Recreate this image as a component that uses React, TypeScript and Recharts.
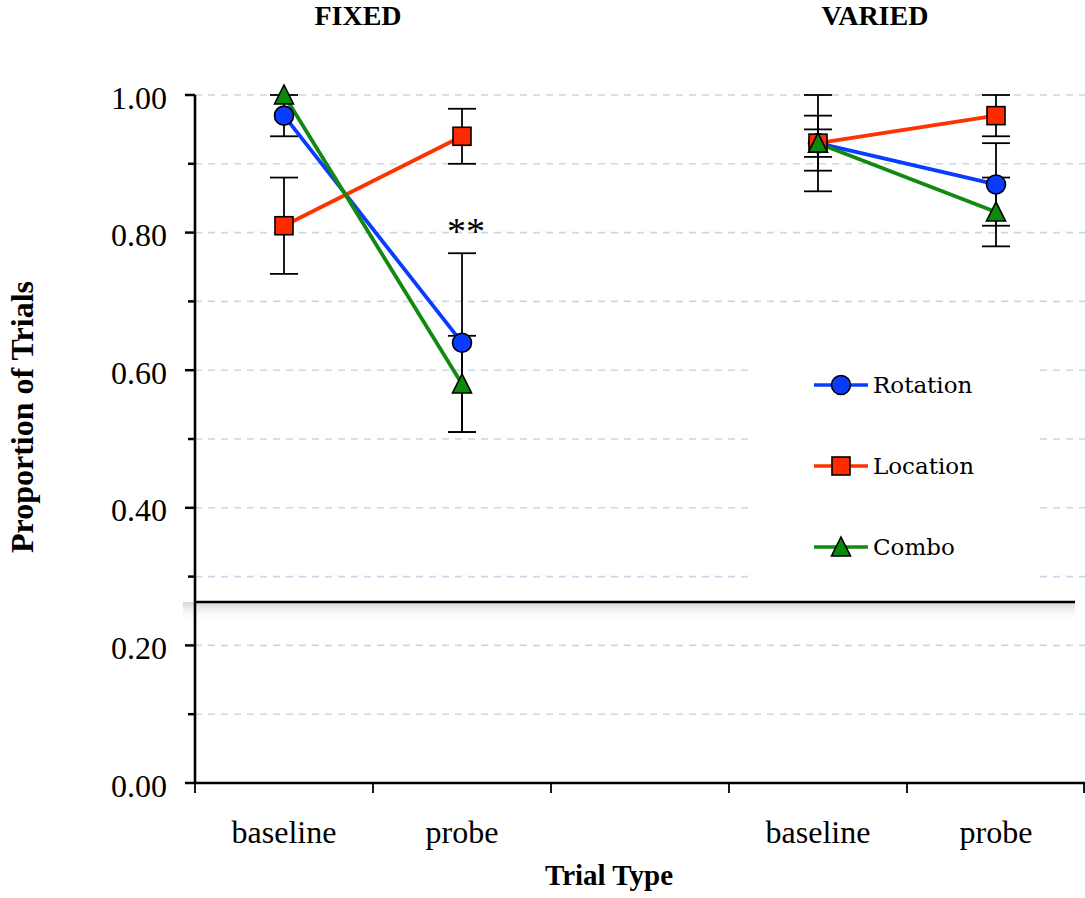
import React from 'react';
import {
  ComposedChart,
  Line,
  XAxis,
  YAxis,
  CartesianGrid,
  ErrorBar,
  ReferenceLine,
  ReferenceDot,
  Legend,
  Customized,
} from 'recharts';

// ---------- data ----------
const slotKeys = ['fixed-baseline', 'fixed-probe', 'gap', 'varied-baseline', 'varied-probe'];
const slotLabels = ['baseline', 'probe', '', 'baseline', 'probe'];

const rotation = [0.97, 0.64, null, 0.93, 0.87];
const rotationErr = [0.03, 0.13, null, 0.07, 0.06];
const location = [0.81, 0.94, null, 0.93, 0.97];
const locationErr = [0.07, 0.04, null, 0.04, 0.03];
const combo = [1.0, 0.58, null, 0.93, 0.83];
const comboErr = [0.0, 0.07, null, 0.02, 0.05];

const yTicks = [0, 0.1, 0.2, 0.3, 0.4, 0.5, 0.6, 0.7, 0.8, 0.9, 1.0];
const yLabelTicks = [0, 0.2, 0.4, 0.6, 0.8, 1.0];
const groupTitles = ['FIXED', 'VARIED'];
const chanceLevel = 0.263;
const annotations = [{ key: 'fixed-probe', y: 0.81, text: '**' }];

const seriesInfo = [
  { key: 'rotation', name: 'Rotation', color: '#0a3cff', fill: '#0a3cff', shape: 'circle' },
  { key: 'location', name: 'Location', color: '#ff3300', fill: '#ff2a00', shape: 'square' },
  { key: 'combo', name: 'Combo', color: '#128a12', fill: '#0c8a0c', shape: 'triangle' },
];

const data = slotKeys.map((k, i) => ({
  key: k,
  label: slotLabels[i],
  rotation: rotation[i],
  rotationErr: rotationErr[i],
  location: location[i],
  locationErr: locationErr[i],
  combo: combo[i],
  comboErr: comboErr[i],
}));

const SERIF = '"Liberation Serif", "Times New Roman", serif';

// ---------- markers ----------
function Marker({ shape, cx, cy, fill }: any) {
  if (shape === 'circle') {
    return <circle cx={cx} cy={cy} r={9.5} fill={fill} stroke="#000" strokeWidth={1.6} />;
  }
  if (shape === 'square') {
    return <rect x={cx - 9} y={cy - 9} width={18} height={18} fill={fill} stroke="#000" strokeWidth={1.6} />;
  }
  return (
    <polygon
      points={`${cx},${cy - 10} ${cx + 9.5},${cy + 9} ${cx - 9.5},${cy + 9}`}
      fill={fill}
      stroke="#000"
      strokeWidth={1.6}
    />
  );
}

const makeDot = (shape: string, fill: string) => (props: any) => {
  const { cx, cy, index, value } = props;
  if (cx == null || cy == null || value == null || (Array.isArray(value) && value[1] == null)) {
    return <g key={`d-${shape}-${index}`} />;
  }
  return (
    <g key={`d-${shape}-${index}`}>
      <Marker shape={shape} cx={cx} cy={cy} fill={fill} />
    </g>
  );
};

// ---------- ticks ----------
const YTick = (props: any) => {
  const { x, y, payload } = props;
  const major = yLabelTicks.some((t) => Math.abs(t - payload.value) < 1e-6);
  return (
    <g>
      <line x1={x - (major ? 10 : 7)} x2={x} y1={y} y2={y} stroke="#000" strokeWidth={2.5} />
      {major && (
        <text x={x - 28} y={y} dy={13.5} textAnchor="end" fontSize={32} fontFamily={SERIF} fill="#000">
          {payload.value.toFixed(2)}
        </text>
      )}
    </g>
  );
};

const XTick = (props: any) => {
  const { x, y, payload, index, visibleTicksCount } = props;
  const off = payload.offset ?? 0;
  const label = slotLabels[index] ?? '';
  const isLast = index === (visibleTicksCount ?? slotKeys.length) - 1;
  return (
    <g>
      <line x1={x - off} x2={x - off} y1={y} y2={y + 10} stroke="#000" strokeWidth={1.8} />
      {isLast && <line x1={x + off - 1} x2={x + off - 1} y1={y} y2={y + 10} stroke="#000" strokeWidth={1.8} />}
      <text x={x} y={y + 60} textAnchor="middle" fontSize={32} fontFamily={SERIF} fill="#000">
        {label}
      </text>
    </g>
  );
};

// ---------- legend ----------
const LegendContent = () => (
  <div style={{ width: '100%', height: '100%', background: '#fff', position: 'relative' }}>
    {seriesInfo.map((s, i) => (
      <div
        key={s.key}
        style={{
          position: 'absolute',
          left: 64,
          top: 40 + i * 81 - 14,
          height: 28,
          display: 'flex',
          alignItems: 'center',
        }}
      >
        <svg width={58} height={28} style={{ display: 'block' }}>
          <line x1={2} x2={56} y1={14} y2={14} stroke={s.color} strokeWidth={3.5} />
          <Marker shape={s.shape} cx={29} cy={14} fill={s.fill} />
        </svg>
        <span
          style={{
            fontFamily: '"DejaVu Serif", serif',
            fontSize: 23,
            color: '#000',
            marginLeft: 3,
            lineHeight: '28px',
          }}
        >
          {s.name}
        </span>
      </div>
    ))}
  </div>
);

// ---------- free texts ----------
const Titles = () => (
  <g>
    <text x={358} y={25} textAnchor="middle" fontSize={28} fontWeight="bold" fontFamily={SERIF} fill="#000">
      {groupTitles[0]}
    </text>
    <text x={875} y={25} textAnchor="middle" fontSize={28} fontWeight="bold" fontFamily={SERIF} fill="#000">
      {groupTitles[1]}
    </text>
    <text x={609} y={885} textAnchor="middle" fontSize={29} fontWeight="bold" fontFamily={SERIF} fill="#000">
      Trial Type
    </text>
    <text
      x={0}
      y={0}
      transform="translate(33, 417) rotate(-90)"
      textAnchor="middle"
      fontSize={32}
      fontWeight="bold"
      fontFamily={SERIF}
      fill="#000"
    >
      Proportion of Trials
    </text>
  </g>
);

const ChanceShape = (p: any) => {
  const x1 = p.x1 ?? 195;
  const x2 = (p.x2 ?? 1085) - 10;
  const y = p.y1;
  return (
    <g>
      <defs>
        <linearGradient id="chanceShadow" x1="0" y1="0" x2="0" y2="1">
          <stop offset="0" stopColor="#cccccc" stopOpacity={0.8} />
          <stop offset="1" stopColor="#ffffff" stopOpacity={0} />
        </linearGradient>
      </defs>
      <rect x={x1 - 12} y={y} width={x2 - x1 + 12} height={20} fill="url(#chanceShadow)" />
      <line x1={x1} x2={x2} y1={y} y2={y} stroke="#000" strokeWidth={2.6} />
    </g>
  );
};

export default function App() {
  return (
    <div style={{ position: 'absolute', left: 0, top: 0, width: 1085, height: 898, background: '#fff' }}>
      <ComposedChart width={1085} height={898} data={data} margin={{ top: 95, right: 0, bottom: 0, left: 0 }}>
        <CartesianGrid vertical={false} stroke="#c9d7ea" strokeDasharray="7 6" strokeWidth={1.6} />
        <XAxis
          dataKey="key"
          type="category"
          scale="band"
          interval={0}
          height={115}
          tickSize={0}
          tickMargin={0}
          tickLine={false}
          axisLine={{ stroke: '#000', strokeWidth: 2.6 }}
          tick={<XTick />}
        />
        <YAxis
          type="number"
          domain={[0, 1]}
          ticks={yTicks}
          interval={0}
          width={195}
          tickSize={0}
          tickMargin={0}
          tickLine={false}
          axisLine={{ stroke: '#000', strokeWidth: 2.6 }}
          tick={<YTick />}
        />
        <ReferenceLine y={chanceLevel} ifOverflow="visible" shape={ChanceShape} />
        {seriesInfo.map((s) => (
          <Line
            key={s.key}
            type="linear"
            dataKey={s.key}
            name={s.name}
            stroke={s.color}
            strokeWidth={3.8}
            connectNulls={false}
            isAnimationActive={false}
            dot={makeDot(s.shape, s.fill)}
            activeDot={false}
            legendType="line"
          >
            <ErrorBar dataKey={`${s.key}Err`} width={14} stroke="#000" strokeWidth={1.8} direction="y" isAnimationActive={false} />
          </Line>
        ))}
        {annotations.map((a) => (
          <ReferenceDot
            key={a.key}
            x={a.key}
            y={a.y}
            r={0}
            ifOverflow="visible"
            shape={(p: any) => (
              <text x={p.cx + 4} y={p.cy + 18} textAnchor="middle" fontSize={38} fontFamily={SERIF} fill="#000">
                {a.text}
              </text>
            )}
          />
        ))}
        <Legend
          layout="vertical"
          verticalAlign="middle"
          align="center"
          content={<LegendContent />}
          wrapperStyle={{ position: 'absolute', left: 748, top: 345, width: 287, height: 245, margin: 0 }}
        />
        <Customized component={Titles} />
      </ComposedChart>
    </div>
  );
}
